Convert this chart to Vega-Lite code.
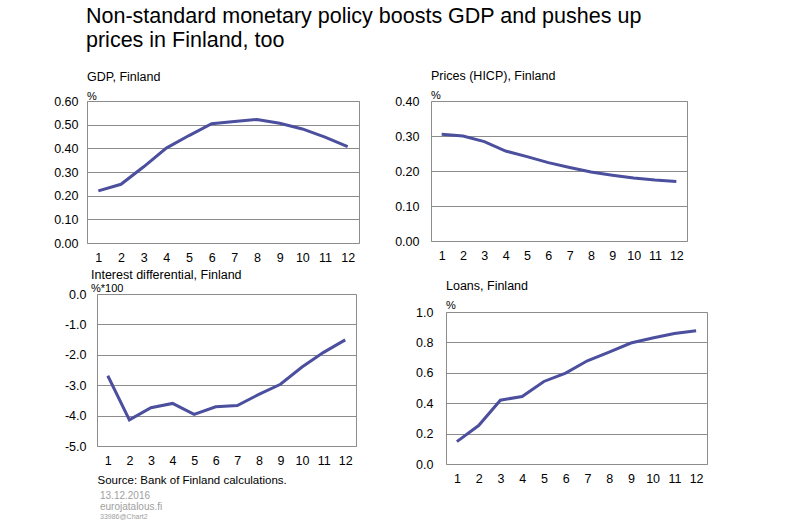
{
  "$schema": "https://vega.github.io/schema/vega-lite/v6.json",
  "padding": {"left": 45, "top": 5, "right": 5, "bottom": 5},
  "title": {
    "text": ["Non-standard monetary policy boosts GDP and pushes up", "prices in Finland, too"],
    "fontSize": 21.5,
    "lineHeight": 24,
    "dx": 41,
    "offset": 18
  },
  "data": {
    "values": [
      {"step": 1, "gdp": 0.22, "hicp": 0.305, "rate": -2.69, "loans": 0.147},
      {"step": 2, "gdp": 0.248, "hicp": 0.3, "rate": -4.14, "loans": 0.253},
      {"step": 3, "gdp": 0.322, "hicp": 0.284, "rate": -3.74, "loans": 0.42},
      {"step": 4, "gdp": 0.401, "hicp": 0.257, "rate": -3.6, "loans": 0.444},
      {"step": 5, "gdp": 0.454, "hicp": 0.241, "rate": -3.96, "loans": 0.543},
      {"step": 6, "gdp": 0.504, "hicp": 0.224, "rate": -3.71, "loans": 0.598},
      {"step": 7, "gdp": 0.513, "hicp": 0.21, "rate": -3.67, "loans": 0.679},
      {"step": 8, "gdp": 0.522, "hicp": 0.197, "rate": -3.3, "loans": 0.736},
      {"step": 9, "gdp": 0.506, "hicp": 0.188, "rate": -2.97, "loans": 0.796},
      {"step": 10, "gdp": 0.482, "hicp": 0.18, "rate": -2.4, "loans": 0.829},
      {"step": 11, "gdp": 0.447, "hicp": 0.174, "rate": -1.92, "loans": 0.859},
      {"step": 12, "gdp": 0.407, "hicp": 0.17, "rate": -1.51, "loans": 0.877}
    ]
  },
  "spacing": 29,
  "hconcat": [
    {
      "spacing": 4,
      "vconcat": [
        {
          "spacing": 0,
          "hconcat": [
            {"width": 1, "height": 1, "data": {"values": []}, "mark": "point", "view": {"stroke": null}},
            {
              "width": 272,
              "height": 142,
              "title": {"text": "GDP, Finland", "subtitle": "%", "subtitlePadding": 8, "offset": -7},
              "mark": {"type": "line", "color": "#4b4f9e", "strokeWidth": 3},
              "encoding": {
                "x": {
                  "field": "step", "type": "ordinal",
                  "scale": {"type": "point", "padding": 0.5},
                  "axis": {"title": null, "labelAngle": 0, "grid": false}
                },
                "y": {
                  "field": "gdp", "type": "quantitative",
                  "scale": {"domain": [0, 0.6], "nice": false},
                  "axis": {"title": null, "values": [0, 0.1, 0.2, 0.3, 0.4, 0.5, 0.6], "format": ".2f", "labelPadding": 9, "minExtent": 40}
                }
              }
            }
          ]
        },
        {
          "spacing": 0,
          "hconcat": [
            {"width": 1, "height": 1, "data": {"values": []}, "mark": "point", "view": {"stroke": null}},
            {
              "width": 259,
              "height": 152,
              "title": {"text": "Interest differential, Finland", "subtitle": "%*100", "subtitlePadding": 2, "offset": -6, "dx": -6},
              "mark": {"type": "line", "color": "#4b4f9e", "strokeWidth": 3},
              "encoding": {
                "x": {
                  "field": "step", "type": "ordinal",
                  "scale": {"type": "point", "padding": 0.5},
                  "axis": {
                    "title": "Source: Bank of Finland calculations.",
                    "titleAnchor": "start", "titleAlign": "left", "titleFontSize": 11.5,
                    "titleFontWeight": "normal", "titleColor": "black", "titlePadding": 8,
                    "labelAngle": 0, "grid": false
                  }
                },
                "y": {
                  "field": "rate", "type": "quantitative",
                  "scale": {"domain": [-5, 0], "nice": false},
                  "axis": {
                    "title": null, "values": [-5, -4, -3, -2, -1, 0], "format": ".1f",
                    "labelExpr": "replace(datum.label, '−', '-')",
                    "labelPadding": 11, "minExtent": 50
                  }
                }
              }
            }
          ]
        },
        {
          "width": 1,
          "height": 1,
          "data": {"values": []},
          "mark": "point",
          "view": {"stroke": null},
          "title": {
            "text": ["13.12.2016", "eurojatalous.fi"],
            "subtitle": "33986@Chart2",
            "fontSize": 10,
            "lineHeight": 11,
            "color": "#a0a0a0",
            "subtitleColor": "#a0a0a0",
            "subtitleFontSize": 7,
            "subtitlePadding": 1,
            "offset": 0,
            "dx": 55
          }
        }
      ]
    },
    {
      "spacing": 17,
      "vconcat": [
        {
          "spacing": 0,
          "hconcat": [
            {"width": 1, "height": 1, "data": {"values": []}, "mark": "point", "view": {"stroke": null}},
            {
              "width": 256,
              "height": 140,
              "title": {"text": "Prices (HICP), Finland", "subtitle": "%", "subtitlePadding": 8, "offset": -6, "dx": 0},
              "mark": {"type": "line", "color": "#4b4f9e", "strokeWidth": 3},
              "encoding": {
                "x": {
                  "field": "step", "type": "ordinal",
                  "scale": {"type": "point", "padding": 0.5},
                  "axis": {"title": null, "labelAngle": 0, "grid": false}
                },
                "y": {
                  "field": "hicp", "type": "quantitative",
                  "scale": {"domain": [0, 0.4], "nice": false},
                  "axis": {"title": null, "values": [0, 0.1, 0.2, 0.3, 0.4], "format": ".2f", "labelPadding": 12, "minExtent": 40}
                }
              }
            }
          ]
        },
        {
          "spacing": 0,
          "hconcat": [
            {"width": 1, "height": 1, "data": {"values": []}, "mark": "point", "view": {"stroke": null}},
            {
              "width": 261,
              "height": 152,
              "title": {"text": "Loans, Finland", "subtitle": "%", "subtitlePadding": 8, "offset": -5},
              "mark": {"type": "line", "color": "#4b4f9e", "strokeWidth": 3},
              "encoding": {
                "x": {
                  "field": "step", "type": "ordinal",
                  "scale": {"type": "point", "padding": 0.5},
                  "axis": {"title": null, "labelAngle": 0, "grid": false}
                },
                "y": {
                  "field": "loans", "type": "quantitative",
                  "scale": {"domain": [0, 1], "nice": false},
                  "axis": {"title": null, "values": [0, 0.2, 0.4, 0.6, 0.8, 1], "format": ".1f", "labelPadding": 13, "minExtent": 55}
                }
              }
            }
          ]
        }
      ]
    }
  ],
  "config": {
    "font": "Liberation Sans",
    "background": "white",
    "view": {"stroke": "#8c8c8c", "strokeWidth": 1},
    "axis": {
      "labelFontSize": 12.5,
      "labelColor": "black",
      "ticks": false,
      "tickSize": 0,
      "domain": false,
      "gridColor": "#8c8c8c",
      "gridOpacity": 1,
      "labelPadding": 8
    },
    "title": {
      "fontSize": 12.5,
      "fontWeight": "normal",
      "color": "black",
      "anchor": "start",
      "frame": "group",
      "subtitleFontSize": 11,
      "subtitleColor": "black"
    }
  }
}
